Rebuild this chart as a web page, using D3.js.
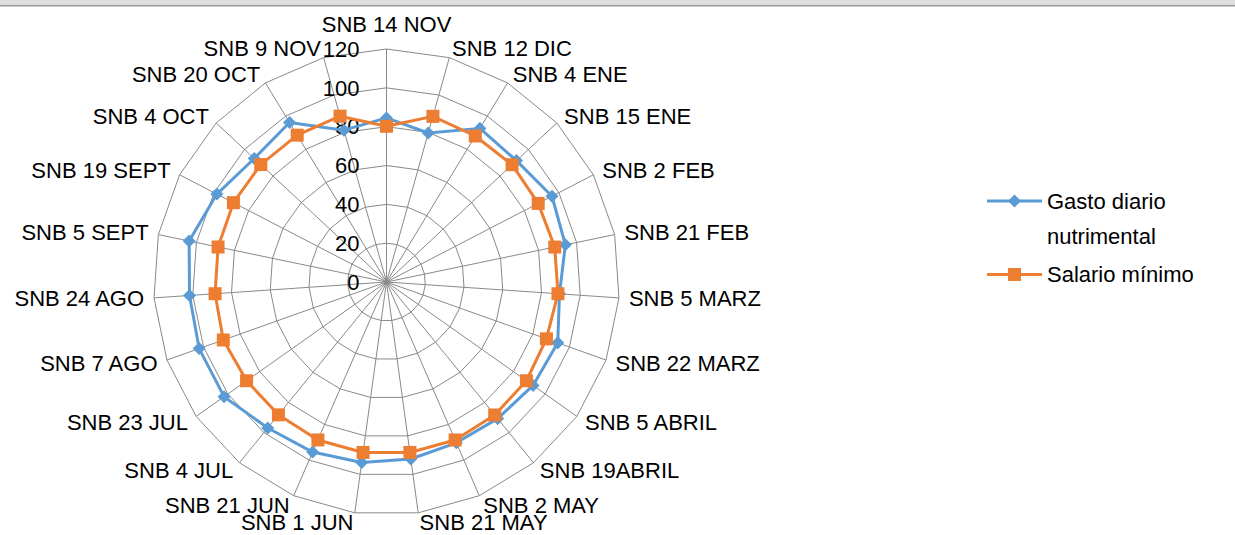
<!DOCTYPE html>
<html>
<head>
<meta charset="utf-8">
<script src="https://cdn.jsdelivr.net/npm/d3@7"></script>
<style>
  body { margin: 0; background: #fff; }
  svg { display: block; font-family: "Liberation Sans", Arial, sans-serif; }
</style>
</head>
<body>
<svg id="chart" width="1235" height="535"></svg>
<script>
/************
** data
*************/
var categories = ["SNB 14 NOV", "SNB 12 DIC", "SNB 4 ENE", "SNB 15 ENE", "SNB 2 FEB", "SNB 21 FEB",
    "SNB 5 MARZ", "SNB 22 MARZ", "SNB 5 ABRIL", "SNB 19ABRIL", "SNB 2 MAY", "SNB 21 MAY",
    "SNB 1 JUN", "SNB 21 JUN", "SNB 4 JUL", "SNB 23 JUL", "SNB 7 AGO", "SNB 24 AGO",
    "SNB 5 SEPT", "SNB 19 SEPT", "SNB 4 OCT", "SNB 20 OCT", "SNB 9 NOV"];
var gastoDiario = [84.5, 79.7, 92.6, 91.6, 96, 94.1, 89.3, 93.6, 92.4, 90.7, 90.3, 92,
    93.8, 95.5, 96.9, 102.4, 102.4, 101.7, 103.8, 98.4, 93.2, 96.1, 81.2];
var salarioMinimo = [80.2, 88.6, 88, 88.5, 88, 88.5, 88.5, 87.4, 88.2, 88.3, 88.7, 88.6,
    88.6, 88.7, 88.2, 88.2, 89.2, 88.5, 88.6, 88.8, 88.6, 88.5, 88.7];
var ticks = [0, 20, 40, 60, 80, 100, 120];
var seriesNames = [["Gasto diario", "nutrimental"], ["Salario mínimo"]];

/************
** colors
*************/
var blue = "#5B9BD5";
var orange = "#ED7D31";
var gridColor = "#898989";
var fontColor = "#000";

/************
** layout
*************/
var svg = d3.select("#chart");
var cx = 386.5, cy = 282;
var n = categories.length;

var r = d3.scaleLinear().domain([0, 120]).range([0, 233]);
var angle = d3.scaleLinear().domain([0, n]).range([0, 2 * Math.PI]);

// window strip at the top
svg.append("rect").attr("x", 0).attr("y", 0).attr("width", 1235).attr("height", 5).attr("fill", "#dedede");
svg.append("rect").attr("x", 0).attr("y", 5).attr("width", 1235).attr("height", 1.5).attr("fill", "#9a9a9a");

var g = svg.append("g").attr("transform", "translate(" + cx + "," + cy + ")");

/************
** grid
*************/
var ring = d3.lineRadial()
    .angle(function(d, i){ return angle(i); })
    .radius(function(d){ return r(d); })
    .curve(d3.curveLinearClosed);

ticks.slice(1).forEach(function(t){
    g.append("path")
        .attr("d", ring(categories.map(function(){ return t; })))
        .attr("fill", "none")
        .attr("stroke", gridColor)
        .attr("stroke-width", 1);
});

g.selectAll("line.spoke").data(categories).enter().append("line")
    .attr("class", "spoke")
    .attr("x1", 0).attr("y1", 0)
    .attr("x2", function(d, i){ return r(120) * Math.sin(angle(i)); })
    .attr("y2", function(d, i){ return -r(120) * Math.cos(angle(i)); })
    .attr("stroke", gridColor)
    .attr("stroke-width", 1);

// value labels
g.selectAll("text.tick").data(ticks).enter().append("text")
    .attr("class", "tick")
    .attr("x", -27)
    .attr("y", function(d){ return -r(d); })
    .attr("dy", "0.35em")
    .attr("text-anchor", "end")
    .attr("font-size", 22)
    .attr("fill", fontColor)
    .text(function(d){ return d; });

// category labels
var labelR = r(120) + 10;
g.selectAll("text.cat").data(categories).enter().append("text")
    .attr("class", "cat")
    .attr("font-size", 22)
    .attr("fill", fontColor)
    .each(function(d, i){
        var a = angle(i);
        var s = Math.sin(a), c = Math.cos(a);
        var x = labelR * s, y = -labelR * c;
        var t = d3.select(this).text(d);
        if (Math.abs(s) < 0.01) {
            t.attr("text-anchor", "middle").attr("x", x).attr("y", y).attr("dy", c > 0 ? "-0.3em" : "0.9em");
        } else {
            t.attr("text-anchor", s > 0 ? "start" : "end").attr("x", x).attr("y", y).attr("dy", "0.35em");
        }
    });

/************
** series
*************/
var line = d3.lineRadial()
    .angle(function(d, i){ return angle(i); })
    .radius(function(d){ return r(d); })
    .curve(d3.curveLinearClosed);

// marker: square, rotated 45deg for the diamond
function marker(sel, color, rot, size){
    sel.attr("d", d3.symbol().type(d3.symbolSquare).size(size))
        .attr("fill", color)
        .attr("transform", function(){
            return d3.select(this).attr("transform") + " rotate(" + rot + ")";
        });
}

function drawSeries(values, color, rot, size){
    g.append("path")
        .attr("d", line(values))
        .attr("fill", "none")
        .attr("stroke", color)
        .attr("stroke-width", 3)
        .attr("stroke-linejoin", "round");
    g.selectAll(null).data(values).enter().append("path")
        .attr("transform", function(d, i){
            return "translate(" + (r(d) * Math.sin(angle(i))) + "," + (-r(d) * Math.cos(angle(i))) + ")";
        })
        .call(marker, color, rot, size);
}
drawSeries(gastoDiario, blue, 45, 85);
drawSeries(salarioMinimo, orange, 0, 169);

/************
** legend
*************/
var legend = svg.append("g").attr("transform", "translate(987,0)");
var legendItems = [
    {y: 201, color: blue, rot: 45, size: 85, lines: seriesNames[0]},
    {y: 274.5, color: orange, rot: 0, size: 169, lines: seriesNames[1]}
];
legendItems.forEach(function(item){
    legend.append("line")
        .attr("x1", 0).attr("x2", 55)
        .attr("y1", item.y).attr("y2", item.y)
        .attr("stroke", item.color).attr("stroke-width", 3);
    legend.append("path")
        .attr("transform", "translate(27.5," + item.y + ")")
        .call(marker, item.color, item.rot, item.size);
    item.lines.forEach(function(l, j){
        legend.append("text")
            .attr("x", 60)
            .attr("y", item.y + j * 35)
            .attr("dy", "0.35em")
            .attr("font-size", 22)
            .attr("fill", fontColor)
            .text(l);
    });
});
</script>
</body>
</html>
